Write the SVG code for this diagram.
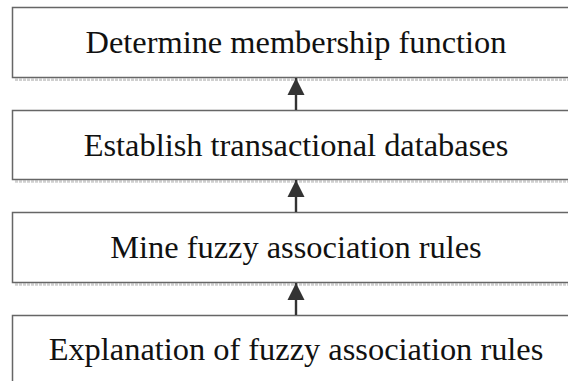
<svg xmlns="http://www.w3.org/2000/svg" width="568" height="381" viewBox="0 0 568 381">
<style>
.box{fill:#fff;stroke:#666;stroke-width:1.5}
.sh{stroke:#d0d0d0;stroke-width:2.5;stroke-dasharray:3 1;fill:none}
.t{font-family:'Liberation Serif','Times New Roman',serif;font-size:32.4px;fill:#111;text-anchor:middle}
.c{stroke:#333;stroke-width:2.4;fill:none}
</style>
<defs>
<marker id="ah" markerWidth="18" markerHeight="18" refX="17" refY="9" orient="auto" markerUnits="userSpaceOnUse">
<path d="M0,0.5 L17,9 L0,17.5 Z" fill="#333"/>
</marker>
</defs>
<g id="n1"><line class="sh" x1="15" y1="79.8" x2="568" y2="79.8"/><rect class="box" x="12.5" y="7.5" width="568" height="70"/><text class="t" x="296" y="53">Determine membership function</text></g>
<g id="n2"><line class="sh" x1="15" y1="181.5" x2="568" y2="181.5"/><rect class="box" x="12.5" y="110.5" width="568" height="69"/><text class="t" x="296" y="155.5">Establish transactional databases</text></g>
<g id="n3"><line class="sh" x1="15" y1="284.5" x2="568" y2="284.5"/><rect class="box" x="12.5" y="212.5" width="568" height="70"/><text class="t" x="296" y="258">Mine fuzzy association rules</text></g>
<g id="n4"><rect class="box" x="12.5" y="315.5" width="568" height="80"/><text class="t" x="296" y="360">Explanation of fuzzy association rules</text></g>
<g id="connectors">
<line class="c" x1="296" y1="110" x2="296" y2="78" marker-end="url(#ah)"/>
<line class="c" x1="296" y1="212" x2="296" y2="180" marker-end="url(#ah)"/>
<line class="c" x1="296" y1="315" x2="296" y2="283" marker-end="url(#ah)"/>
</g>
</svg>
